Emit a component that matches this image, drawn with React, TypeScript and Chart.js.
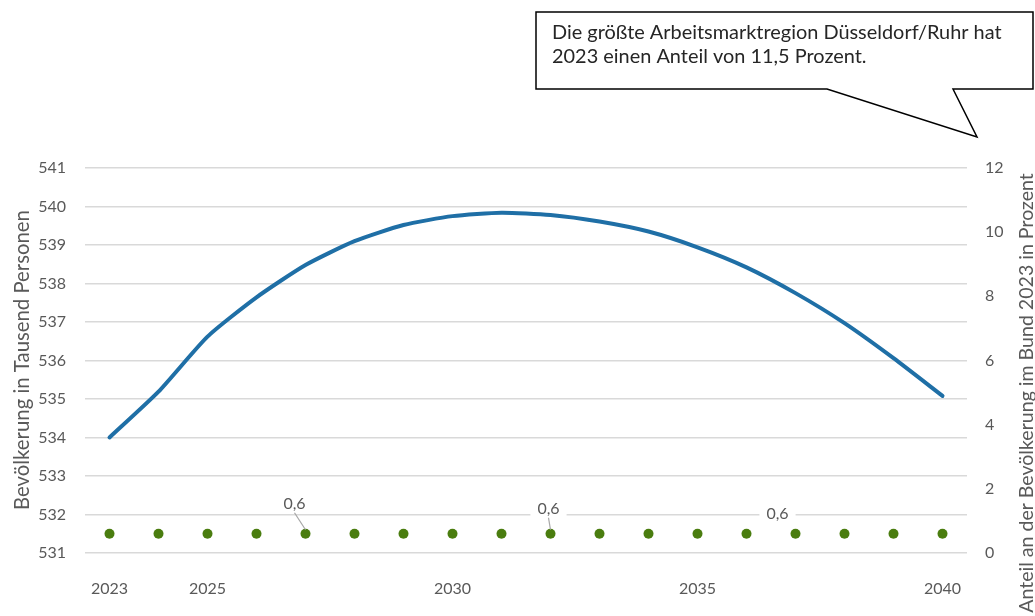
import React, { useEffect, useRef } from "react";
import { Chart, registerables } from "chart.js";

Chart.register(...registerables);

const years = ["2023", "2024", "2025", "2026", "2027", "2028", "2029", "2030", "2031", "2032", "2033", "2034", "2035", "2036", "2037", "2038", "2039", "2040"];
const shownYearTicks = ["2023", "2025", "2030", "2035", "2040"];
const population = [534.0, 535.19, 536.62, 537.64, 538.48, 539.1, 539.52, 539.75, 539.84, 539.78, 539.61, 539.35, 538.94, 538.42, 537.75, 536.97, 536.06, 535.08];
const shareOfGermany = [0.6, 0.6, 0.6, 0.6, 0.6, 0.6, 0.6, 0.6, 0.6, 0.6, 0.6, 0.6, 0.6, 0.6, 0.6, 0.6, 0.6, 0.6];
const labelledYears = ["2027", "2032", "2037"];
const leftTitle = "Bevölkerung in Tausend Personen";
const rightTitle = "Anteil an der Bevölkerung im Bund 2023 in Prozent";
const calloutLines = ["Die größte Arbeitsmarktregion Düsseldorf/Ruhr hat", "2023 einen Anteil von 11,5 Prozent."];

const FONT = "Lato, 'Noto Sans', sans-serif";
const GREY = "#595959";

function fitSize(ctx: CanvasRenderingContext2D, text: string, target: number) {
  ctx.font = `100px ${FONT}`;
  const w = ctx.measureText(text).width;
  return (100 * target) / w;
}

export default function App() {
  const ref = useRef<HTMLCanvasElement | null>(null);

  useEffect(() => {
    document.body.style.margin = "0";
    const canvas = ref.current;
    if (!canvas) return;

    const overlay = {
      id: "overlay",
      afterDatasetsDraw(chart: any) {
        const ctx = chart.ctx;
        const meta = chart.getDatasetMeta(1);
        const offsets: Record<string, [number, number]> = {
          "2027": [-11, -30],
          "2032": [-2, -25],
          "2037": [-18, -20],
        };
        ctx.save();
        ctx.font = `16px ${FONT}`;
        ctx.textAlign = "center";
        ctx.textBaseline = "middle";
        labelledYears.forEach((yr) => {
          const i = years.indexOf(yr);
          const el = meta.data[i];
          if (!el) return;
          const [dx, dy] = offsets[yr];
          const lx = el.x + dx;
          const ly = el.y + dy;
          const text = String(shareOfGermany[i]).replace(".", ",");
          const w = ctx.measureText(text).width;
          ctx.fillStyle = "#ffffff";
          ctx.fillRect(lx - w / 2 - 7, ly - 10, w + 14, 20);
          if (dy < -20) {
            ctx.strokeStyle = "#a6a6a6";
            ctx.lineWidth = 1.2;
            ctx.beginPath();
            ctx.moveTo(lx, ly + 9);
            ctx.lineTo(el.x, el.y - 4);
            ctx.stroke();
          }
          ctx.fillStyle = GREY;
          ctx.fillText(text, lx, ly);
        });
        ctx.restore();
      },
      afterDraw(chart: any) {
        const ctx = chart.ctx;
        const dpr = chart.currentDevicePixelRatio;
        ctx.save();
        // axis titles
        ctx.fillStyle = GREY;
        ctx.textAlign = "center";
        ctx.textBaseline = "middle";
        const ls = fitSize(ctx, leftTitle, 300);
        ctx.font = `${ls}px ${FONT}`;
        ctx.translate(22, 360);
        ctx.rotate(-Math.PI / 2);
        ctx.fillText(leftTitle, 0, 0);
        ctx.setTransform(dpr, 0, 0, dpr, 0, 0);
        const rs = fitSize(ctx, rightTitle, 440);
        ctx.font = `${rs}px ${FONT}`;
        ctx.translate(1027, 393);
        ctx.rotate(-Math.PI / 2);
        ctx.fillText(rightTitle, 0, 0);
        ctx.setTransform(dpr, 0, 0, dpr, 0, 0);

        // callout
        const L = 536, T = 12, R = 1033, B = 89;
        ctx.beginPath();
        ctx.moveTo(L, T);
        ctx.lineTo(R, T);
        ctx.lineTo(R, B);
        ctx.lineTo(953, B);
        ctx.lineTo(977, 137);
        ctx.lineTo(827, B);
        ctx.lineTo(L, B);
        ctx.closePath();
        ctx.fillStyle = "#ffffff";
        ctx.fill();
        ctx.strokeStyle = "#000000";
        ctx.lineWidth = 1.5;
        ctx.stroke();
        const cs = fitSize(ctx, calloutLines[0], 450);
        ctx.fillStyle = "#262626";
        ctx.font = `${cs}px ${FONT}`;
        ctx.textAlign = "left";
        ctx.textBaseline = "alphabetic";
        ctx.fillText(calloutLines[0], 552, 39);
        ctx.fillText(calloutLines[1], 552, 63);
        ctx.restore();
      },
    };

    const chart = new Chart(canvas, {
      type: "line",
      data: {
        labels: years,
        datasets: [
          {
            label: "Bevölkerung",
            data: population,
            yAxisID: "y",
            borderColor: "#1f6fa6",
            backgroundColor: "#1f6fa6",
            borderWidth: 4,
            pointRadius: 0,
            tension: 0.2,
            borderCapStyle: "round",
            borderJoinStyle: "round",
          },
          {
            label: "Anteil",
            data: shareOfGermany,
            yAxisID: "y1",
            showLine: false,
            pointRadius: 5,
            pointBackgroundColor: "#4a7d0f",
            pointBorderColor: "#4a7d0f",
            pointBorderWidth: 0,
          },
        ],
      },
      options: {
        animation: false,
        responsive: false,
        maintainAspectRatio: false,
        layout: { padding: { top: 168, left: 0, right: 0, bottom: 0 } },
        plugins: { legend: { display: false }, tooltip: { enabled: false } },
        scales: {
          x: {
            offset: true,
            grid: { display: false },
            border: { display: false },
            ticks: {
              autoSkip: false,
              maxRotation: 0,
              padding: 18,
              color: GREY,
              font: { family: FONT, size: 16 },
              callback: (_v: any, i: number) => (shownYearTicks.includes(years[i]) ? years[i] : ""),
            },
            afterFit: (s: any) => { s.height = 63; },
          },
          y: {
            position: "left",
            min: 531,
            max: 541,
            ticks: { stepSize: 1, padding: 19, color: GREY, font: { family: FONT, size: 16 } },
            grid: { color: "#d9d9d9", lineWidth: 1.5, drawTicks: false },
            border: { display: false },
            afterFit: (s: any) => { s.width = 85; },
          },
          y1: {
            position: "right",
            min: 0,
            max: 12,
            ticks: { stepSize: 2, padding: 18, color: GREY, font: { family: FONT, size: 16 } },
            grid: { display: false, drawTicks: false },
            border: { display: false },
            afterFit: (s: any) => { s.width = 68; },
          },
        },
      },
      plugins: [overlay],
    });

    return () => chart.destroy();
  }, []);

  return (
    <div style={{ position: "fixed", left: 0, top: 0, width: 1035, height: 616, background: "#fff" }}>
      <canvas ref={ref} width={1035} height={616} style={{ width: 1035, height: 616 }} />
    </div>
  );
}
